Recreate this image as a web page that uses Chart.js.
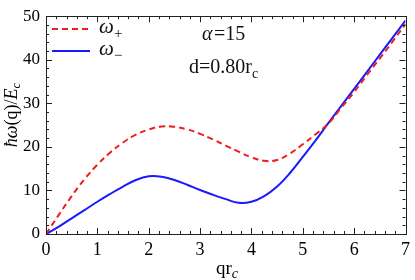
<!DOCTYPE html>
<html>
<head>
<meta charset="utf-8">
<script src="https://cdn.jsdelivr.net/npm/chart.js@4"></script>
<style>
  html, body { margin: 0; padding: 0; background: #fff; }
  #wrap { width: 415px; height: 280px; }
</style>
</head>
<body>
<div id="wrap"><canvas id="grafico" width="415" height="280"></canvas></div>
<script>
const qValues = [0, 0.25, 0.5, 0.75, 1, 1.25, 1.5, 1.75, 2, 2.25, 2.5, 2.75, 3, 3.25, 3.5, 3.75, 4, 4.25, 4.5, 4.75, 5, 5.25, 5.5, 5.75, 6, 6.25, 6.5, 6.75, 7];
const omegaPlus = [0, 4.4, 8.7, 12.6, 15.9, 18.7, 21, 22.8, 24, 24.7, 24.6, 24, 23, 21.7, 20.3, 18.9, 17.6, 16.8, 17, 18.5, 20.6, 22.9, 25.4, 29, 32.6, 36.5, 40.3, 44.2, 48.2];
const omegaMinus = [0, 1.7, 3.6, 5.5, 7.4, 9.2, 10.9, 12.4, 13.25, 13.15, 12.4, 11.3, 10.1, 9, 8, 7.15, 7.4, 8.7, 10.9, 14, 17.7, 21.5, 25.5, 29.4, 33.3, 37.2, 41.2, 45.1, 49];
const xTicks = [0, 1, 2, 3, 4, 5, 6, 7];
const yTicks = [0, 10, 20, 30, 40, 50];

const serif = '"Liberation Serif", "DejaVu Serif", serif';

function pontos(ys) {
    return qValues.map((q, i) => ({ x: q, y: ys[i] }));
}

// texto com subscrito
function textoSub(ctx, base, sub, x, y, size, italicSub) {
    ctx.font = size + 'px ' + serif;
    ctx.fillText(base, x, y);
    const w = ctx.measureText(base).width;
    ctx.font = (italicSub ? 'italic ' : '') + Math.round(size * 0.7) + 'px ' + serif;
    ctx.fillText(sub, x + w, y + size * 0.3);
    return w + ctx.measureText(sub).width;
}

const molduraPlugin = {
    id: 'moldura',
    afterDraw(chart) {
        const ctx = chart.ctx;
        const a = chart.chartArea;
        const sx = chart.scales.x, sy = chart.scales.y;
        ctx.save();
        ctx.strokeStyle = '#222';
        ctx.lineWidth = 1;
        ctx.strokeRect(Math.round(a.left) + 0.5, Math.round(a.top) + 0.5,
            Math.round(a.right - a.left), Math.round(a.bottom - a.top));

        // ticks internos
        ctx.beginPath();
        for (let i = 0; i <= 35; i++) {
            const v = i * 0.2;
            const px = Math.round(sx.getPixelForValue(v)) + 0.5;
            const len = (i % 5 === 0) ? 6 : 3;
            ctx.moveTo(px, a.bottom); ctx.lineTo(px, a.bottom - len);
            ctx.moveTo(px, a.top); ctx.lineTo(px, a.top + len);
        }
        for (let i = 0; i <= 25; i++) {
            const v = i * 2;
            const py = Math.round(sy.getPixelForValue(v)) + 0.5;
            const len = (i % 5 === 0) ? 6 : 3;
            ctx.moveTo(a.left, py); ctx.lineTo(a.left + len, py);
            ctx.moveTo(a.right, py); ctx.lineTo(a.right - len, py);
        }
        ctx.stroke();

        // legenda
        ctx.lineWidth = 2;
        ctx.strokeStyle = '#ee1c1c';
        ctx.setLineDash([6, 4]);
        ctx.beginPath(); ctx.moveTo(52, 29); ctx.lineTo(90, 29); ctx.stroke();
        ctx.setLineDash([]);
        ctx.strokeStyle = '#1a1aff';
        ctx.beginPath(); ctx.moveTo(52, 51); ctx.lineTo(90, 51); ctx.stroke();

        ctx.fillStyle = '#111';
        ctx.textBaseline = 'middle';
        ctx.textAlign = 'left';
        ctx.font = 'italic 21px ' + serif;
        ctx.fillText('ω', 99, 27);
        ctx.font = '15px ' + serif;
        ctx.fillText('+', 114, 34);
        ctx.font = 'italic 21px ' + serif;
        ctx.fillText('ω', 99, 49);
        ctx.font = '15px ' + serif;
        ctx.fillText('−', 114, 56);

        // anotações
        ctx.font = 'italic 20px ' + serif;
        ctx.fillText('α', 202, 35);
        ctx.font = '20px ' + serif;
        ctx.fillText('=15', 214, 35);
        textoSub(ctx, 'd=0.80r', 'c', 189, 68, 20, false);

        // títulos dos eixos
        ctx.fillStyle = '#000';
        ctx.font = '19px ' + serif;
        ctx.fillText('qr', 216, 269);
        const wq = ctx.measureText('qr').width;
        ctx.font = 'italic 14px ' + serif;
        ctx.fillText('c', 216 + wq, 274);

        ctx.translate(12, 115);
        ctx.rotate(-Math.PI / 2);
        const partes = [['ħω', 'italic 18px '], ['(q)/', '18px '], ['E', 'italic 18px ']];
        let total = 0;
        partes.forEach(p => { ctx.font = p[1] + serif; total += ctx.measureText(p[0]).width; });
        ctx.font = 'italic 13px ' + serif;
        total += ctx.measureText('c').width;
        let x = -total / 2;
        partes.forEach(p => {
            ctx.font = p[1] + serif;
            ctx.fillText(p[0], x, 0);
            x += ctx.measureText(p[0]).width;
        });
        ctx.font = 'italic 13px ' + serif;
        ctx.fillText('c', x, 5);
        ctx.restore();
    }
};

new Chart(document.getElementById('grafico').getContext('2d'), {
    type: 'line',
    data: {
        datasets: [
            {
                label: 'ω+',
                data: pontos(omegaPlus),
                borderColor: '#ee1c1c',
                borderWidth: 2,
                borderDash: [6, 4],
                pointRadius: 0,
                tension: 0.4,
                fill: false
            },
            {
                label: 'ω−',
                data: pontos(omegaMinus),
                borderColor: '#1a1aff',
                borderWidth: 2,
                pointRadius: 0,
                tension: 0.4,
                fill: false
            }
        ]
    },
    options: {
        responsive: false,
        animation: false,
        layout: { padding: { left: 0, top: 10, right: 5, bottom: 0 } },
        plugins: { legend: { display: false }, tooltip: { enabled: false } },
        scales: {
            x: {
                type: 'linear',
                min: 0,
                max: 7,
                afterFit: s => { s.height = 46; },
                afterBuildTicks: s => { s.ticks = xTicks.map(v => ({ value: v })); },
                grid: { display: false, drawTicks: false },
                border: { display: false },
                ticks: { padding: 5, color: '#000', font: { family: serif, size: 18 }, maxRotation: 0 }
            },
            y: {
                type: 'linear',
                min: 0,
                max: 50,
                afterFit: s => { s.width = 46; },
                afterBuildTicks: s => { s.ticks = yTicks.map(v => ({ value: v })); },
                grid: { display: false, drawTicks: false },
                border: { display: false },
                ticks: { padding: 6, color: '#000', font: { family: serif, size: 17 } }
            }
        }
    },
    plugins: [molduraPlugin]
});
</script>
</body>
</html>
